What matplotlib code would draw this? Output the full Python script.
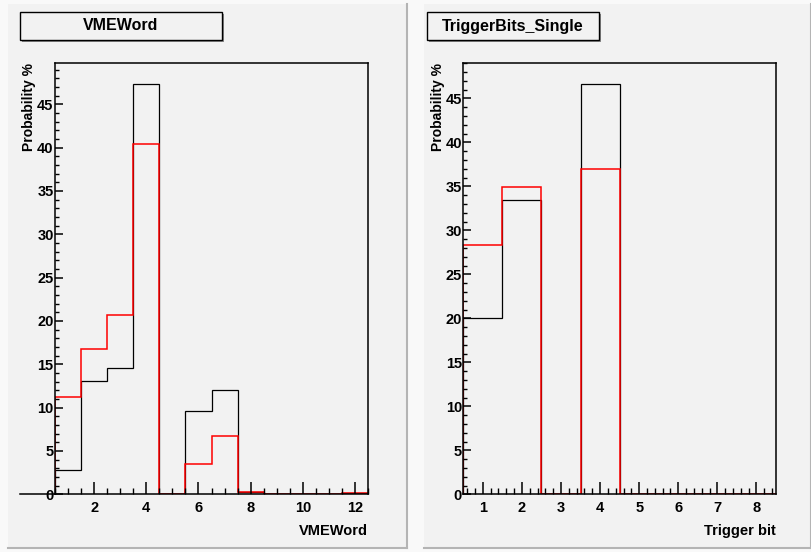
import matplotlib.pyplot as plt
from matplotlib.patches import Rectangle
from matplotlib.ticker import MultipleLocator, FixedLocator

plt.rcParams['font.family'] = ['Liberation Sans', 'DejaVu Sans']
plt.rcParams['font.weight'] = 'bold'

# VMEWord histogram, bins 1..12
vme_edges = [0.5 + i for i in range(13)]
vme_black = [2.8, 13.05, 14.6, 47.4, 0.0, 9.6, 12.05, 0.3, 0.0, 0.0, 0.0, 0.1]
vme_red = [11.2, 16.8, 20.7, 40.4, 0.0, 3.5, 6.7, 0.3, 0.0, 0.0, 0.0, 0.1]
vme_ticks = [2, 4, 6, 8, 10, 12]

# TriggerBits_Single histogram, bins 1..8
trig_edges = [0.5 + i for i in range(9)]
trig_black = [20.0, 33.5, 0.0, 46.7, 0.0, 0.0, 0.0, 0.0]
trig_red = [28.3, 34.9, 0.0, 37.0, 0.0, 0.0, 0.0, 0.0]
trig_ticks = [1, 2, 3, 4, 5, 6, 7, 8]

W, H = 811, 552
fig = plt.figure(figsize=(W / 100, H / 100), dpi=100)
fig.patch.set_facecolor('#f9f9f9')


def px(x0, y0, x1, y1):
    """pixel box (top-left origin) -> figure fraction rect"""
    return [x0 / W, 1 - y1 / H, (x1 - x0) / W, (y1 - y0) / H]


def pad(x0, y0, x1, y1):
    fig.patches.append(Rectangle((x0 / W, 1 - y1 / H), (x1 - x0) / W, (y1 - y0) / H,
                                 transform=fig.transFigure, facecolor='#f2f2f2',
                                 edgecolor='none', zorder=0))
    # bevel: dark right/bottom edges
    fig.add_artist(plt.Line2D([x1 / W, x1 / W], [1 - y1 / H, 1 - y0 / H],
                              transform=fig.transFigure, color='#b4b4b4', lw=1.5))
    fig.add_artist(plt.Line2D([x0 / W, x1 / W], [1 - y1 / H, 1 - y1 / H],
                              transform=fig.transFigure, color='#b4b4b4', lw=1.5))


def title_box(x0, y0, x1, y1, text):
    fig.patches.append(Rectangle((x0 / W + 2 / W, 1 - y1 / H - 2 / H), (x1 - x0) / W, (y1 - y0) / H,
                                 transform=fig.transFigure, facecolor='#8a8a8a',
                                 edgecolor='none', zorder=1))
    fig.patches.append(Rectangle((x0 / W, 1 - y1 / H), (x1 - x0) / W, (y1 - y0) / H,
                                 transform=fig.transFigure, facecolor='#f2f2f2',
                                 edgecolor='black', lw=1.0, zorder=2))
    fig.text((x0 + x1) / 2 / W, 1 - (y0 + y1) / 2 / H, text, ha='center', va='center',
             fontsize=11.5, fontweight='bold', zorder=3)


def hist_panel(rect, edges, black, red, ticks, minor, xlabel):
    ax = fig.add_axes(rect)
    ax.set_zorder(5)
    ax.set_facecolor('#f2f2f2')
    ax.stairs(black, edges, color='black', lw=0.9)
    ax.stairs(red, edges, color='#ff0000', lw=1.1)
    ax.set_xlim(edges[0], edges[-1])
    ax.set_ylim(0, 1.05 * max(black))
    ax.xaxis.set_major_locator(FixedLocator(ticks))
    ax.xaxis.set_minor_locator(MultipleLocator(minor))
    ax.yaxis.set_major_locator(MultipleLocator(5))
    ax.yaxis.set_minor_locator(MultipleLocator(1))
    ax.tick_params(which='both', direction='in', top=False, right=False, labelsize=10.5)
    ax.tick_params(axis='x', which='major', length=9, width=1.1, pad=5)
    ax.tick_params(axis='x', which='minor', length=4.5, width=1.0)
    ax.tick_params(axis='y', which='major', length=5.5, width=1.1, pad=1)
    ax.tick_params(axis='y', which='minor', length=3, width=1.0)
    for s in ax.spines.values():
        s.set_linewidth(1.1)
    ax.set_xlabel(xlabel, fontsize=10.5, fontweight='bold', loc='right', labelpad=6)
    ax.set_ylabel('Probability %', fontsize=10, fontweight='bold', loc='top')
    ax.yaxis.set_label_coords(-18.5 / (rect[2] * W), 1.0)
    return ax


pad(8, 4, 407, 548)
pad(424, 4, 811, 548)

ax1 = hist_panel(px(55, 63, 368, 494.3), vme_edges, vme_black, vme_red,
                 vme_ticks, 0.5, 'VMEWord')
ax1.axhline(0, xmin=-0.112, xmax=0, color='black', lw=1.1, clip_on=False)
ax2 = hist_panel(px(463.3, 63, 776, 494.3), trig_edges, trig_black, trig_red,
                 trig_ticks, 0.2, 'Trigger bit')

title_box(20, 12, 222, 40, 'VMEWord')
title_box(427, 12, 599, 40, 'TriggerBits_Single')

fig.savefig('out.png', dpi=100, facecolor=fig.get_facecolor())
